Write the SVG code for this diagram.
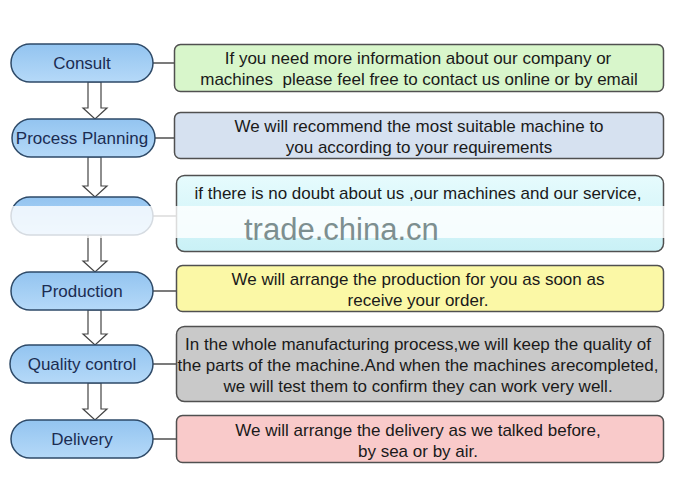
<svg xmlns="http://www.w3.org/2000/svg" width="685" height="478" viewBox="0 0 685 478">
<defs>
<linearGradient id="pill" x1="0" y1="0" x2="0" y2="1">
<stop offset="0" stop-color="#93c4f0"/>
<stop offset="1" stop-color="#b5d9f8"/>
</linearGradient>
<linearGradient id="cyan" x1="0" y1="0" x2="0" y2="1">
<stop offset="0" stop-color="#e6fbfd"/>
<stop offset="1" stop-color="#c9f1f6"/>
</linearGradient>
<style>
.pill{fill:url(#pill);stroke:#2e4a68;stroke-width:1.5}
.box{stroke:#505050;stroke-width:1.5}
.lbl{font-family:"Liberation Sans",Arial,sans-serif;font-size:17px;fill:#1b2c52;text-anchor:middle}
.txt{font-family:"Liberation Sans",Arial,sans-serif;font-size:17px;fill:#1a1a1a;text-anchor:middle;white-space:pre}
.conn{stroke:#333;stroke-width:1.3;fill:none}
.arr{fill:#fff;stroke:#444;stroke-width:1.2}
</style>
</defs>
<rect width="685" height="478" fill="#fff"/>
<g id="connectors">
<line class="conn" x1="153" y1="63" x2="175" y2="63"/>
<line class="conn" x1="155" y1="138" x2="175" y2="138"/>
<line class="conn" x1="153" y1="216" x2="177" y2="216"/>
<line class="conn" x1="153" y1="291" x2="177" y2="291"/>
<line class="conn" x1="153" y1="364" x2="177" y2="364"/>
<line class="conn" x1="153" y1="439" x2="177" y2="439"/>
<path class="arr" d="M88,82 V108 H83 L95,119 L107,108 H101 V82 Z"/>
<path class="arr" d="M88,157 V186 H83 L95,197 L107,186 H101 V157 Z"/>
<path class="arr" d="M88,235 V261 H83 L95,272 L107,261 H101 V235 Z"/>
<path class="arr" d="M88,310 V334 H83 L95,345 L107,334 H101 V310 Z"/>
<path class="arr" d="M88,383 V409 H83 L95,420 L107,409 H101 V383 Z"/>
</g>
<g id="consult">
<rect class="pill" x="11" y="44" width="142" height="38" rx="19"/>
<text class="lbl" x="82" y="69">Consult</text>
</g>
<g id="process-planning">
<rect class="pill" x="12" y="119" width="143" height="38" rx="19"/>
<text class="lbl" x="82" y="144">Process Planning</text>
</g>
<g id="step3">
<rect class="pill" x="11" y="197" width="142" height="38" rx="19"/>
</g>
<g id="production">
<rect class="pill" x="11" y="272" width="142" height="38" rx="19"/>
<text class="lbl" x="82" y="297">Production</text>
</g>
<g id="quality-control">
<rect class="pill" x="10" y="345" width="143" height="38" rx="19"/>
<text class="lbl" x="82" y="370">Quality control</text>
</g>
<g id="delivery">
<rect class="pill" x="11" y="420" width="142" height="38" rx="19"/>
<text class="lbl" x="82" y="445">Delivery</text>
</g>
<g id="info-consult">
<rect class="box" x="174.5" y="44.5" width="489" height="47" rx="6" fill="#d8f6cb"/>
<text class="txt" x="418" y="64">If you need more information about our company or</text>
<text class="txt" x="419" y="85">machines  please feel free to contact us online or by email</text>
</g>
<g id="info-planning">
<rect class="box" x="174.5" y="112.5" width="489" height="46" rx="6" fill="#d6e1f0"/>
<text class="txt" x="419" y="132">We will recommend the most suitable machine to</text>
<text class="txt" x="419" y="153">you according to your requirements</text>
</g>
<g id="info-step3">
<rect class="box" x="176.5" y="175.5" width="487" height="76" rx="8" fill="url(#cyan)"/>
<text class="txt" x="418" y="199">if there is no doubt about us ,our machines and our service,</text>
</g>
<g id="info-production">
<rect class="box" x="176.5" y="265.5" width="487" height="46" rx="6" fill="#fbf8a6"/>
<text class="txt" x="418" y="285">We will arrange the production for you as soon as</text>
<text class="txt" x="418" y="306">receive your order.</text>
</g>
<g id="info-quality">
<rect class="box" x="176.5" y="326.5" width="487" height="75" rx="8" fill="#c9c9c9"/>
<text class="txt" x="418" y="350">In the whole manufacturing process,we will keep the quality of</text>
<text class="txt" x="418" y="371">the parts of the machine.And when the machines arecompleted,</text>
<text class="txt" x="418" y="392">we will test them to confirm they can work very well.</text>
</g>
<g id="info-delivery">
<rect class="box" x="176.5" y="415.5" width="487" height="47" rx="6" fill="#f9caca"/>
<text class="txt" x="418" y="436">We will arrange the delivery as we talked before,</text>
<text class="txt" x="418" y="457">by sea or by air.</text>
</g>
<g id="watermark">
<rect x="8" y="206" width="660" height="32" fill="#fff" opacity="0.8"/>
<text x="244" y="240" font-family="Liberation Sans,Arial,sans-serif" font-size="31" fill="#7d8f90">trade.china.cn</text>
</g>
</svg>
